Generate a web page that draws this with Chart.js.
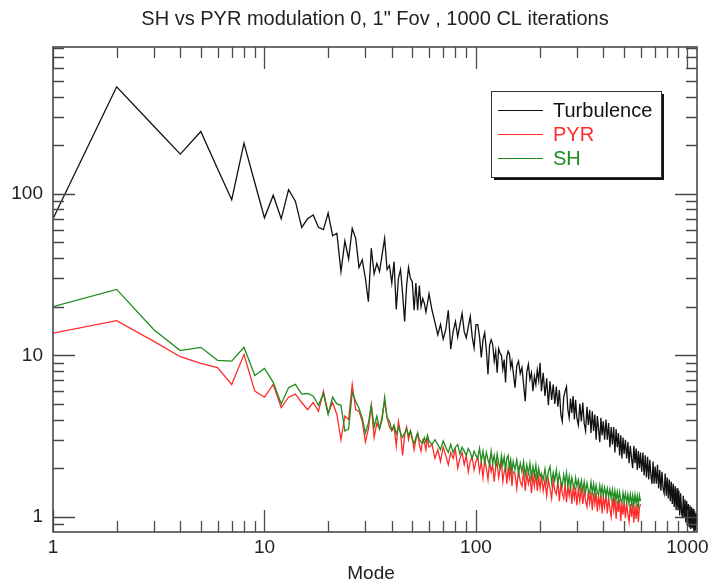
<!DOCTYPE html>
<html>
<head>
<meta charset="utf-8">
<script src="https://cdn.jsdelivr.net/npm/chart.js@4.4.1/dist/chart.umd.min.js"></script>
<style>
  body { margin: 0; background: #fff; }
  canvas { display: block; }
</style>
</head>
<body>
<canvas id="chart" width="710" height="582"></canvas>
<script>
const chartTitle = 'SH vs PYR modulation 0, 1" Fov , 1000 CL iterations';
const xTitle = 'Mode';
const seriesLabels = ['Turbulence', 'PYR', 'SH'];
const seriesColors = ['#111111', '#ff2b2b', '#1f8c1f'];
const xTickLabels = [1, 10, 100, 1000];
const yTickLabels = [1, 10, 100];

// mode numbers the values below were read at
const modes = [
  1,2,3,4,5,6,7,8,9,10,11,12,13,14,15,16,17,18,19,20,21,22,23,24,25,26,27,28,29,30,
  31,32,33,34,35,36,37,38,39,40,41,42,43,44,45,46,47,48,49,50,51,52,53,54,55,56,57,58,59,60,
  62,64,66,68,70,72,74,76,78,80,82,84,86,88,90,92,94,96,98,100,
  102,104,106,108,110,112,114,116,118,120,122,124,126,128,130,132,134,136,138,140,142,144,146,148,150,
  153,156,159,162,165,168,171,174,177,180,183,186,189,192,195,198,201,
  204,208,212,216,220,224,228,232,236,240,244,248,252,256,260,264,268,272,276,280,284,288,292,296,300,
  305,310,315,320,325,330,335,340,345,350,355,360,365,370,375,380,385,390,395,400,
  406,412,418,424,430,436,442,448,454,460,466,472,478,484,490,496,502,
  509,516,523,530,537,544,551,558,565,572,579,586,593,600,
  608,616,624,632,640,648,656,664,672,680,688,696,704,
  713,722,731,740,749,758,767,776,785,794,803,812,821,830,839,848,857,866,875,884,
  893,902,911,920,929,938,947,956,965,974,983,992,1001,1010,1019,1028,1037,1046,1055,1064,
  1073,1082,1091,1100,1109
];

const turbulence = [
  70,460,262,176,243,143,92,206,117,71,98,70,106,90,62,70,74,62,60,76,55,57,33,51,39.5,61,53,35,39,30,
  21.5,46,32,37,33,42,53,34,36,28,38,19.2,30,34,24,16.2,27,35,30,28.6,19,28,19,27,20,22.5,21,18.5,21,24,
  19,16,13.4,15.5,12.6,14.4,19,10.9,14,16.2,13,15.5,18.2,14,12.8,15,17.4,13,11.1,15.5,
  15.5,13,9.7,12.5,13.8,10.8,7.6,11.5,12.5,11.7,9.2,10.6,7.8,11,10.3,10,8.2,9.4,6.8,9.8,10.6,10.2,8.4,9.2,7.9,
  6.3,8.6,9.2,7.7,8.4,6.6,5.2,7.9,8.8,7.1,7.8,6.0,7.4,6.6,8.1,7.0,9.0,
  6.0,7.8,5.6,7.2,4.9,6.9,5.3,6.6,5.0,6.4,4.8,6.1,4.3,3.9,5.5,6.0,6.4,4.6,4.1,5.4,4.4,5.6,4.0,5.3,4.1,
  3.7,5.0,3.9,5.1,3.8,3.4,4.8,3.7,4.6,3.3,4.5,3.4,4.3,3.0,4.2,3.5,2.9,4.1,3.2,3.9,
  3.0,4.0,3.0,3.8,2.7,3.6,2.8,3.6,2.5,3.5,2.7,3.3,2.4,3.2,2.3,3.1,2.45,
  3.0,2.3,2.9,2.15,2.75,2.3,2.0,2.75,2.15,2.65,1.95,2.55,2.0,2.5,
  1.9,2.5,1.8,2.4,1.75,2.35,1.7,2.25,1.8,1.6,2.2,1.6,2.05,
  1.6,2.1,1.5,1.95,1.45,1.9,1.5,1.4,1.85,1.35,1.75,1.3,1.7,1.25,1.65,1.2,1.6,1.15,1.55,1.1,
  1.5,1.1,1.45,1.02,1.4,1.08,0.98,1.35,1.0,1.28,0.92,1.25,0.9,1.2,0.87,1.18,0.84,1.15,0.85,1.12,
  0.8,1.08,0.82,1.05,0.9
];

const pyr = [
  13.7,16.4,12.2,9.8,8.9,8.4,6.6,10.1,6.0,5.5,6.6,4.75,5.5,5.75,5.1,4.6,5.1,4.5,6.0,4.4,5.1,4.3,3.0,4.2,4.0,6.6,4.6,4.5,3.9,2.9,
  3.5,4.9,3.1,3.8,3.5,4.2,5.2,4.1,3.6,3.4,3.6,2.75,3.9,3.3,2.4,3.2,3.6,3.0,3.4,3.1,2.6,3.0,3.3,2.8,2.55,3.0,2.9,2.6,3.1,2.7,
  2.8,2.3,2.6,2.2,2.7,2.4,2.1,2.5,2.3,2.6,2.0,2.3,2.5,2.1,2.4,1.9,2.2,2.35,1.95,2.2,
  2.35,1.9,2.2,1.75,2.25,2.0,1.7,2.2,1.9,2.1,1.65,2.05,2.15,1.75,1.95,2.2,1.65,1.9,2.05,1.6,2.0,1.75,2.05,1.55,1.9,
  1.85,1.5,1.95,1.65,1.55,1.9,1.45,1.85,1.6,1.8,1.4,1.8,1.55,1.85,1.45,1.75,1.5,
  1.8,1.45,1.7,1.35,1.7,1.5,1.3,1.7,1.45,1.38,1.68,1.25,1.6,1.4,1.3,1.6,1.23,1.55,1.35,1.58,1.2,1.5,1.3,1.52,1.18,
  1.5,1.25,1.52,1.2,1.45,1.25,1.15,1.45,1.22,1.42,1.1,1.4,1.2,1.42,1.08,1.35,1.17,1.38,1.05,1.32,
  1.15,1.38,1.05,1.32,1.12,1.0,1.3,1.1,1.32,0.97,1.25,1.07,1.28,0.94,1.22,1.03,1.25,
  0.98,1.22,1.03,0.93,1.2,1.0,1.22,0.92,1.17,0.97,1.2,0.93,1.14,1.2
];

const sh = [
  20,25.6,14.4,10.7,11.2,9.3,9.2,11.2,7.5,8.3,6.8,5.0,6.3,6.6,5.75,5.8,5.6,4.9,5.8,4.3,5.5,5.0,4.9,3.4,3.5,5.9,5.2,4.7,4.1,3.3,
  3.8,4.9,3.6,4.2,3.5,4.0,5.5,4.1,3.9,3.45,3.7,3.25,3.6,3.3,3.1,3.3,3.5,3.2,3.4,3.0,2.85,3.1,3.3,3.0,2.9,2.85,3.1,2.9,3.2,2.95,
  2.8,3.0,2.8,2.6,2.95,2.7,2.5,2.8,2.5,2.7,2.8,2.45,2.7,2.55,2.4,2.65,2.5,2.3,2.55,2.4,
  2.3,2.65,2.2,2.55,2.15,2.5,2.25,2.1,2.55,2.15,2.4,2.05,2.45,2.15,2.0,2.4,2.1,2.35,1.95,2.3,2.4,2.0,2.25,1.9,2.2,
  1.95,2.25,1.85,2.15,1.9,2.2,1.8,2.1,1.85,2.15,1.75,2.05,1.8,2.1,1.72,2.0,1.78,
  1.85,1.7,1.98,1.65,1.9,2.05,1.62,1.88,1.68,1.95,1.6,1.85,1.65,1.55,1.82,1.6,1.88,1.55,1.78,1.52,1.75,1.58,1.5,1.74,1.55,
  1.7,1.48,1.68,1.45,1.65,1.42,1.62,1.46,1.4,1.64,1.4,1.6,1.38,1.57,1.42,1.36,1.56,1.38,1.54,1.35,
  1.52,1.35,1.5,1.32,1.48,1.3,1.47,1.28,1.45,1.27,1.43,1.25,1.42,1.27,1.23,1.41,1.25,
  1.4,1.22,1.38,1.2,1.38,1.21,1.36,1.18,1.37,1.2,1.35,1.18,1.36,1.25
];

const FONT = '"Liberation Sans", Arial, Helvetica, sans-serif';
const AXIS_COLOR = '#4a4a4a';

function toPoints(values) {
  return values.map((v, i) => ({ x: modes[i], y: v }));
}

// tick marks on all four sides, pointing inward, plus title, axis title, legend
const idlFrame = {
  id: 'idlFrame',
  afterDraw(chart) {
    const ctx = chart.ctx;
    const a = chart.chartArea;
    const xs = chart.scales.x;
    const ys = chart.scales.y;
    ctx.save();

    ctx.strokeStyle = AXIS_COLOR;
    ctx.lineWidth = 1.6;
    ctx.strokeRect(a.left, a.top, a.right - a.left, a.bottom - a.top);

    ctx.lineWidth = 1.3;
    ctx.beginPath();
    [0.1, 1, 10, 100, 1000].forEach(d => {
      for (let k = 1; k <= 9; k++) {
        const v = k * d;
        const len = k === 1 ? 22 : 11;
        if (v >= xs.min && v <= xs.max) {
          const px = Math.round(xs.getPixelForValue(v)) + 0.5;
          ctx.moveTo(px, a.bottom); ctx.lineTo(px, a.bottom - len);
          ctx.moveTo(px, a.top); ctx.lineTo(px, a.top + len);
        }
        if (v >= ys.min && v <= ys.max) {
          const py = Math.round(ys.getPixelForValue(v)) + 0.5;
          ctx.moveTo(a.left, py); ctx.lineTo(a.left + len, py);
          ctx.moveTo(a.right, py); ctx.lineTo(a.right - len, py);
        }
      }
    });
    ctx.stroke();

    // titles
    ctx.fillStyle = '#222';
    ctx.textAlign = 'center';
    ctx.textBaseline = 'alphabetic';
    ctx.font = '20px ' + FONT;
    ctx.fillText(chartTitle, (a.left + a.right) / 2, 25);
    ctx.font = '19px ' + FONT;
    ctx.fillText(xTitle, 371, 579);

    // legend box with drop shadow
    const lx = 491, ly = 91, lw = 170, lh = 86;
    ctx.fillStyle = '#111';
    ctx.fillRect(lx + 3, ly + 3, lw, lh);
    ctx.fillStyle = '#fff';
    ctx.fillRect(lx, ly, lw, lh);
    ctx.strokeStyle = '#333';
    ctx.lineWidth = 1;
    ctx.strokeRect(lx + 0.5, ly + 0.5, lw, lh);
    ctx.font = '20px ' + FONT;
    ctx.textAlign = 'left';
    ctx.textBaseline = 'middle';
    chart.data.datasets.forEach((ds, i) => {
      const yy = 110 + i * 24;
      ctx.strokeStyle = ds.borderColor;
      ctx.lineWidth = 1.2;
      ctx.beginPath();
      ctx.moveTo(498, yy + 0.5);
      ctx.lineTo(543, yy + 0.5);
      ctx.stroke();
      ctx.fillStyle = ds.borderColor;
      ctx.fillText(ds.label, 553, yy + 1);
    });
    ctx.restore();
  }
};

const ctx = document.getElementById('chart').getContext('2d');
new Chart(ctx, {
  type: 'line',
  data: {
    datasets: [
      { label: seriesLabels[0], data: toPoints(turbulence), borderColor: seriesColors[0], order: 2 },
      { label: seriesLabels[1], data: toPoints(pyr), borderColor: seriesColors[1], order: 1 },
      { label: seriesLabels[2], data: toPoints(sh), borderColor: seriesColors[2], order: 0 }
    ]
  },
  options: {
    responsive: false,
    animation: false,
    devicePixelRatio: 1,
    layout: { padding: { left: 0, right: 13, top: 47, bottom: 0 } },
    elements: {
      point: { radius: 0 },
      line: { borderWidth: 1.3, tension: 0 }
    },
    plugins: {
      legend: { display: false },
      title: { display: false },
      tooltip: { enabled: false }
    },
    scales: {
      x: {
        type: 'logarithmic',
        min: 1,
        max: 1110,
        grid: { display: false, drawTicks: false },
        border: { display: false },
        afterBuildTicks: s => { s.ticks = xTickLabels.map(v => ({ value: v })); },
        afterFit: s => { s.height = 50; s.paddingLeft = 0; s.paddingRight = 0; },
        ticks: {
          autoSkip: false,
          maxRotation: 0,
          padding: 4,
          color: '#222',
          font: { family: FONT, size: 19 },
          callback: v => String(v)
        }
      },
      y: {
        type: 'logarithmic',
        min: 0.805,
        max: 811,
        grid: { display: false, drawTicks: false },
        border: { display: false },
        afterBuildTicks: s => { s.ticks = yTickLabels.map(v => ({ value: v })); },
        afterFit: s => { s.width = 53; s.paddingTop = 0; s.paddingBottom = 0; },
        ticks: {
          autoSkip: false,
          padding: 10,
          color: '#222',
          font: { family: FONT, size: 19 },
          callback: v => String(v)
        }
      }
    }
  },
  plugins: [idlFrame]
});
</script>
</body>
</html>
